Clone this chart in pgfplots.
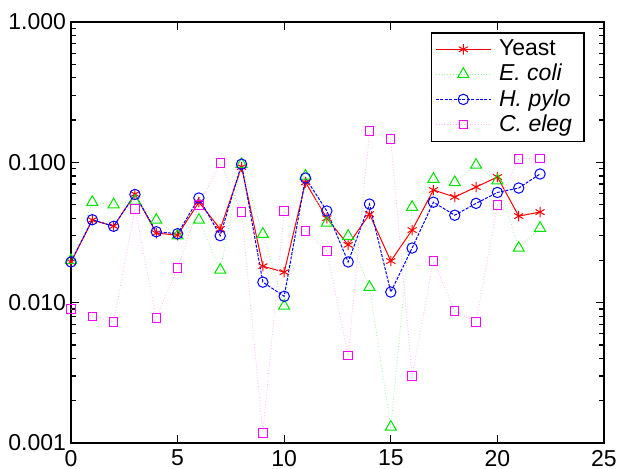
\documentclass[border=0pt]{standalone}
\usepackage{fontspec}
\setmainfont{Liberation Sans}
\usepackage{pgfplots}
\pgfplotsset{compat=1.18}
\usetikzlibrary{calc}

\definecolor{yred}{RGB}{255,0,0}
\definecolor{egreen}{RGB}{0,230,0}
\definecolor{hblue}{RGB}{0,0,255}
\definecolor{cmag}{RGB}{255,0,255}

\begin{document}
\begin{tikzpicture}
\begin{axis}[
  scale only axis, width=266.5pt, height=210.5pt,
  ymode=log, xmin=0, xmax=25, ymin=0.001, ymax=1,
  xtick={0,5,...,25},
  ytick={0.001,0.01,0.1,1},
  yticklabels={0.001,0.010,0.100,1.000},
  tick align=inside, major tick length=4pt, minor tick length=2.5pt,
  tick style={black, line width=0.6pt},
  axis line style={line width=0.8pt},
  font=\fontsize{11.5}{13}\selectfont,
  yticklabel style={xshift=1pt},
  /pgf/number format/assume math mode=true,
  legend style={at={(rel axis cs:0.964,0.976)}, anchor=north east,
    draw=black, line width=0.8pt, font=\fontsize{11.5}{12.5}\selectfont,
    row sep=-1.2pt, inner xsep=2pt, inner ysep=1.5pt,
    nodes={inner xsep=4pt}},
  legend cell align=left,
  legend image code/.code={
    \draw[mark repeat=2,mark phase=2] plot coordinates {(0cm,0cm) (0.48cm,0cm) (0.96cm,0cm)};},
]
\addplot[yred, line width=0.5pt, mark=asterisk, mark size=2.6pt, mark options={solid}] coordinates {
(0,0.0195)(1,0.0388)(2,0.0351)(3,0.0594)(4,0.0313)(5,0.0303)(6,0.052)(7,0.0335)
(8,0.0926)(9,0.0182)(10,0.0165)(11,0.072)(12,0.040)(13,0.0258)(14,0.0428)(15,0.0198)
(16,0.0329)(17,0.0635)(18,0.0566)(19,0.0667)(20,0.0786)(21,0.0414)(22,0.0442)};
\addlegendentry{Yeast}
\addplot[egreen!40, line width=0.4pt, densely dotted, mark=triangle, mark size=3.2pt,
  mark options={solid, draw=egreen, line width=0.5pt}] coordinates {
(0,0.020)(1,0.052)(2,0.050)(3,0.053)(4,0.0388)(5,0.030)(6,0.0388)(7,0.0171)
(8,0.097)(9,0.0308)(10,0.00946)(11,0.080)(12,0.037)(13,0.0298)(14,0.0129)(15,0.0013)
(16,0.048)(17,0.076)(18,0.072)(19,0.0957)(20,0.074)(21,0.0245)(22,0.034)};
\addlegendentry{\textit{E. coli}}
\addplot[hblue, line width=0.5pt, dash pattern=on 1.5pt off 0.7pt, mark=o, mark size=2.6pt,
  mark options={solid}] coordinates {
(0,0.0195)(1,0.039)(2,0.035)(3,0.059)(4,0.032)(5,0.031)(6,0.0557)(7,0.030)
(8,0.097)(9,0.014)(10,0.0111)(11,0.0773)(12,0.045)(13,0.0195)(14,0.0504)(15,0.0119)
(16,0.0245)(17,0.052)(18,0.042)(19,0.051)(20,0.061)(21,0.0656)(22,0.0826)};
\addlegendentry{\textit{H. pylo}}
\addplot[cmag!30, line width=0.4pt, densely dotted, mark=square, mark size=2.1pt,
  mark options={solid, draw=cmag, line width=0.5pt}] coordinates {
(0,0.009)(1,0.008)(2,0.0073)(3,0.0465)(4,0.0078)(5,0.0177)(6,0.0496)(7,0.099)
(8,0.0442)(9,0.00118)(10,0.045)(11,0.0324)(12,0.0233)(13,0.0042)(14,0.167)(15,0.1465)
(16,0.003)(17,0.0198)(18,0.0087)(19,0.0073)(20,0.0496)(21,0.1056)(22,0.107)};
\addlegendentry{\textit{C. eleg}}
\end{axis}
\pgfresetboundingbox
\path ($(current axis.south west)+(-35.5pt,-13pt)$) rectangle ($(current axis.north east)+(6.5pt,11pt)$);
\end{tikzpicture}
\end{document}
